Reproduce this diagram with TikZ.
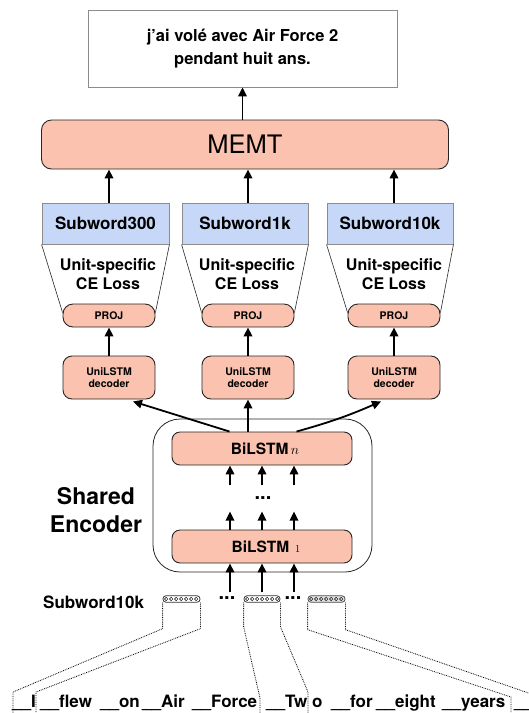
\RequirePackage{fix-cm}
\documentclass[tikz,border=0pt]{standalone}
\usepackage{fontspec}
\setmainfont{TeX Gyre Heros}
\usetikzlibrary{arrows.meta,calc}
\definecolor{pinkfill}{HTML}{FBC3AF}
\definecolor{bluefill}{HTML}{C6D7F8}
\newcommand\fsz[2]{\fontsize{#1}{#2}\selectfont\bfseries}
\begin{document}
\begin{tikzpicture}[x=1pt,y=-1pt,
  pinkbox/.style={draw=black!85, line width=0.9pt, fill=pinkfill, rounded corners=8pt, inner sep=0pt, align=center},
  bluebox/.style={draw=black!45, line width=0.9pt, fill=bluefill, inner sep=0pt, minimum width=126pt, minimum height=41pt, font=\fsz{17}{20}},
  projbox/.style={pinkbox, minimum width=92pt, minimum height=23pt, rounded corners=10pt, font=\fsz{10.5}{12}},
  decbox/.style={pinkbox, minimum width=92pt, minimum height=43pt, rounded corners=9pt, font=\fsz{10.5}{12}},
  bibox/.style={pinkbox, minimum width=180pt, minimum height=33pt, rounded corners=8pt, font=\fsz{15.5}{18}},
  cetext/.style={align=center, inner sep=0pt, font=\fsz{16}{19}},
  trapline/.style={line width=0.6pt, draw=black!85},
  arr/.style={line width=1.8pt, -{Triangle[length=9pt,width=8.5pt]}},
  embbox/.style={draw=black!80, line width=0.8pt, fill=white, rounded corners=3pt, minimum width=37pt, minimum height=6.5pt, inner sep=0pt},
  dotline/.style={densely dotted, line width=0.8pt},
  word/.style={anchor=base west, inner sep=0pt, font=\fsz{17}{20}},
  dotstext/.style={inner sep=0pt, font=\fsz{20}{20}}
]
\useasboundingbox (0,0) rectangle (529,713);
\clip (0,0) rectangle (529,713);

% output
\node[draw=black!45, line width=0.8pt, minimum width=309pt, minimum height=77pt, inner sep=0pt, align=center, font=\fsz{16.5}{23}] (out) at (242.5,48.5) {j’ai volé avec Air Force 2\\pendant huit ans.};

% MEMT
\node[pinkbox, minimum width=407pt, minimum height=49pt, rounded corners=10pt, font=\fontsize{25.5}{30}\selectfont] (memt) at (245,144.5) {MEMT};
\draw[arr] (out.south |- memt.north) -- (out.south);

% subword boxes
\node[bluebox, minimum width=127pt] (sw1) at (105.5,223.5) {Subword300};
\node[bluebox] (sw2) at (245,223.5) {Subword1k};
\node[bluebox] (sw3) at (390,223.5) {Subword10k};

% proj
\node[projbox] (proj1) at (109,315.5) {PROJ};
\node[projbox] (proj2) at (248,315.5) {PROJ};
\node[projbox] (proj3) at (394,315.5) {PROJ};

% trapezoids
\foreach \i in {1,2,3}{
  \draw[trapline] (sw\i.south west) -- ([yshift=3pt]proj\i.west);
  \draw[trapline] (sw\i.south east) -- ([yshift=3pt]proj\i.east);
  \draw[arr] (sw\i.north -| proj\i.north) -- (memt.south -| proj\i.north);
}
\node[cetext] (ce1) at (108,274) {Unit-specific\\CE Loss};
\node[cetext] (ce2) at (247,274) {Unit-specific\\CE Loss};
\node[cetext] (ce3) at (394,274) {Unit-specific\\CE Loss};

% decoders
\node[decbox] (dec1) at (109,377.5) {UniLSTM\\decoder};
\node[decbox] (dec2) at (248,377.5) {UniLSTM\\decoder};
\node[decbox] (dec3) at (394,377.5) {UniLSTM\\decoder};
\foreach \i in {1,2,3}{
  \draw[arr] (dec\i.north) -- (proj\i.south);
}

% encoder
\node[draw=black!85, line width=0.8pt, rounded corners=27pt, minimum width=219pt, minimum height=153pt, inner sep=0pt] (enc) at (262.5,495.5) {};
\node[bibox] (bn) at (262,448.5) {\hspace*{6pt}BiLSTM\hspace{2.5pt}{\fontsize{14}{14}\selectfont$n$}};
\node[bibox] (b1) at (262,546.5) {\hspace*{8pt}BiLSTM\hspace{6pt}{\fontsize{10.5}{10.5}\selectfont$1$}};
\node[cetext, font=\fsz{23}{28}] (shenc) at (96,510.5) {Shared\\Encoder};

\coordinate (bnL) at ($(bn.north west)+(58,0)$);
\coordinate (bnR) at ($(bn.north west)+(125,0)$);
\coordinate (dec1in) at ($(dec1.south)+(24,2)$);
\coordinate (dec3in) at ($(dec3.south)+(-13,2)$);
\draw[arr] (bnL) -- (dec1in);
\draw[arr] (bn.north -| dec2.south) -- (dec2.south);
\draw[arr] (bnR) to[bend right=4] (dec3in);

\foreach \dx in {-32,0,32}{
  \draw[arr] ([xshift=\dx pt]b1.north) -- ++(0,-18);
  \draw[arr] ([xshift=\dx pt]bn.south) ++(0,20) -- ([xshift=\dx pt]bn.south);
  \draw[arr] ([xshift=\dx pt]b1.south) ++(0,29) -- ([xshift=\dx pt]b1.south);
}
\node[dotstext] (vdots) at (263,498) {...};

% embeddings
\node[embbox] (e1) at (181.5,599) {};
\node[embbox, minimum width=36pt] (e2) at (262,599) {};
\node[embbox, draw=black!70, fill=black!12] (e3) at (326.5,599) {};
\foreach \e in {e1,e2,e3}{
  \foreach \i in {0,...,6}{
    \draw[line width=0.45pt] ($(\e.west)+(3.6+\i*5,0)$) circle (1.7pt);
  }
}
\node[dotstext] (hd1) at (227,598) {...};
\node[dotstext] (hd2) at (293,598) {...};
\node[word] (swlab) at (43,608) {Subword10k};

% words
\node[word] (w1) at (12,707.5) {\_\_I};
\node[word] (w2) at (40,707.5) {\_\_flew};
\node[word] (w3) at (100,707.5) {\_\_on};
\node[word] (w4) at (142,707.5) {\_\_Air};
\node[word] (w5) at (192,707.5) {\_\_Force};
\node[word] (w6) at (266,707.5) {\_\_Tw};
\node[word] (w7) at (312,707.5) {o};
\node[word] (w8) at (331,707.5) {\_\_for};
\node[word] (w9) at (376,707.5) {\_\_eight};
\node[word] (w10) at (442,707.5) {\_\_years};
\node[word] (w11) at (514,707.5) {\_\_};

% dotted brackets
\coordinate (k1) at (13,713);
\coordinate (k2) at (36,713);
\coordinate (k3) at (260,713);
\coordinate (k4) at (308,713);
\coordinate (k5) at (511,713);
\coordinate (k6) at (540,713);
\draw[dotline] (e1.south west) -- ++(0,26) -- (13,692) -- (k1);
\draw[dotline] (e1.south east) -- ++(0,26) -- (36,692) -- (k2);
\draw[dotline] (e2.south west) -- ++(0,24) -- (260,698) -- (k3);
\draw[dotline] (e2.south east) -- ++(0,24) -- (308,692) -- (k4);
\draw[dotline] (e3.south west) -- ++(0,27) -- (511,697) -- (k5);
\draw[dotline] (e3.south east) -- ++(0,27) -- (540,697) -- (k6);
\end{tikzpicture}
\end{document}
